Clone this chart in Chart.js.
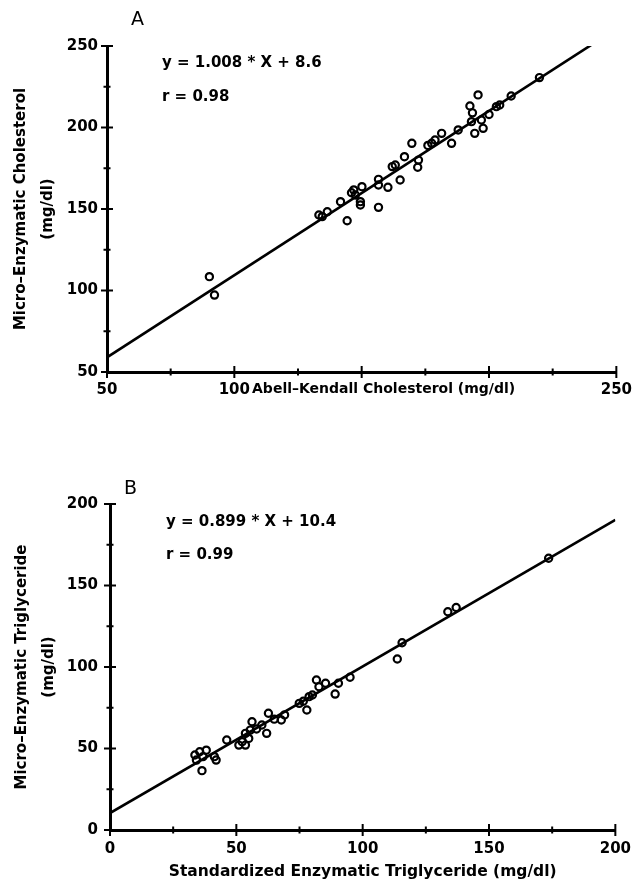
<!DOCTYPE html>
<html><head><meta charset="utf-8">
<script src="https://cdn.jsdelivr.net/npm/chart.js@4.4.0/dist/chart.umd.min.js"></script>
<style>
html,body{margin:0;padding:0;background:#fff;}
#wrap{position:relative;width:641px;height:881px;overflow:hidden;background:#fff;}
canvas{position:absolute;left:0;}
.t{position:absolute;font-family:"DejaVu Sans";font-weight:bold;color:#000;white-space:nowrap;line-height:1;}
</style></head>
<body><div id="wrap">
<canvas id="cA" width="641" height="440" style="top:0px"></canvas>
<canvas id="cB" width="641" height="441" style="top:440px"></canvas>
<div class="t" style="left:131px;top:9px;font-size:19px;font-weight:normal">A</div>
<div class="t" style="left:162px;top:55px;font-size:15px">y = 1.008 * X + 8.6</div>
<div class="t" style="left:162px;top:89px;font-size:15px">r = 0.98</div>
<div class="t" style="left:124px;top:478px;font-size:19px;font-weight:normal">B</div>
<div class="t" style="left:166px;top:514px;font-size:15px">y = 0.899 * X + 10.4</div>
<div class="t" style="left:166px;top:547px;font-size:15px">r = 0.99</div>
</div>
<script>
// Panel A: cholesterol
const cholAbellKendall = [219.8,208.7,204.2,202.9,195.7,192.5,193.5,193.1,197.0,197.7,194.4,187.9,185.3,181.4,177.5,178.8,169.7,166.8,172.3,172.0,163.2,165.1,156.6,156.6,160.3,150.1,146.9,147.5,149.5,149.5,156.6,141.7,144.3,136.5,133.2,134.5,90.2,92.2,176.0,162.0,146.0,200.0];
const cholMicro        = [230.6,219.3,213.8,212.8,220.0,213.2,209.0,203.6,204.6,199.5,196.4,198.5,190.3,196.4,190.3,192.3,190.3,182.1,180.0,175.6,177.0,167.8,168.2,164.7,163.3,163.7,161.7,158.6,154.5,152.5,151.0,154.5,142.8,148.3,146.3,145.3,108.5,97.2,189.0,176.0,160.0,208.0];
const cholFitX = [50, 240.5];
const cholFitY = [59, 251];
const cholTicks = [50,100,150,200,250];
const cholXLabelsShown = [50,100,250];

// Panel B: triglyceride
const trigStandard = [173.6,133.7,137.0,115.6,113.7,95.0,90.4,89.1,85.3,81.7,82.7,80.1,77.9,74.9,78.8,69.1,67.8,62.7,62.0,60.1,56.2,55.5,54.9,53.6,52.3,51.0,53.6,46.2,42.0,41.3,38.1,35.5,33.6,36.8,36.4,34.2,76.5,65.0,58.0];
const trigMicro    = [166.7,133.9,136.5,114.9,104.9,93.7,90.0,83.4,90.0,92.0,87.9,82.8,73.6,77.7,81.8,70.6,67.5,71.6,59.3,64.4,66.4,61.3,56.2,59.3,54.2,52.1,52.1,55.2,42.9,45.0,49.0,48.0,46.0,45.0,36.4,42.9,79.0,68.0,62.0];
const trigFitX = [0, 200];
const trigFitY = [10.4, 190.2];
const trigTicks = [0,50,100,150,200];

const FONT = "DejaVu Sans";
const NB = '\u00a0';

const crossTicks = {
  id: 'crossTicks',
  afterDraw(chart) {
    const ctx = chart.ctx;
    const xs = chart.scales.x, ys = chart.scales.y;
    ctx.save();
    ctx.strokeStyle = '#000';
    ctx.lineWidth = 2;
    const step = 25;
    for (let v = xs.min; v <= xs.max + 0.01; v += step) {
      const px = xs.getPixelForValue(v);
      const major = Math.round(v) % 50 === 0;
      const L = major ? 6 : 3.5;
      ctx.beginPath(); ctx.moveTo(px, xs.top - L); ctx.lineTo(px, xs.top + L); ctx.stroke();
    }
    for (let v = ys.min; v <= ys.max + 0.01; v += step) {
      const py = ys.getPixelForValue(v);
      const major = Math.round(v) % 50 === 0;
      const L = major ? 6 : 3.5;
      ctx.beginPath(); ctx.moveTo(ys.right - L, py); ctx.lineTo(ys.right + L, py); ctx.stroke();
    }
    ctx.restore();
  }
};

function build(id, xv, yv, fx, fy, lim, ticksVals, xShown, xTitle, yTitle, dims) {
  const pts = xv.map((x, i) => ({x: x, y: yv[i]}));
  const line = fx.map((x, i) => ({x: x, y: fy[i]}));
  return new Chart(document.getElementById(id), {
    type: 'scatter',
    data: {
      datasets: [
        {type: 'line', data: line, borderColor: '#000', borderWidth: 2.6, pointRadius: 0, fill: false, tension: 0, order: 2},
        {data: pts, pointStyle: 'circle', pointRadius: 3.6, pointBorderWidth: 2.2, pointBorderColor: '#000', pointBackgroundColor: 'rgba(255,255,255,0)', order: 1}
      ]
    },
    options: {
      responsive: false, animation: false,
      layout: {padding: {left: 0, right: dims.right, top: dims.top, bottom: dims.bottom}},
      plugins: {legend: {display: false}, tooltip: {enabled: false}},
      scales: {
        x: {
          type: 'linear', min: lim[0], max: lim[1],
          afterFit: s => { s.height = dims.xH; },
          afterBuildTicks: s => { s.ticks = ticksVals.map(v => ({value: v})); },
          grid: {display: true, drawOnChartArea: false, drawTicks: false},
          border: {display: true, color: '#000', width: 3},
          ticks: {color: '#000', padding: dims.xPad, maxRotation: 0, autoSkip: false,
                  font: {family: FONT, size: 15, weight: 'bold'},
                  callback: v => (xShown.indexOf(v) >= 0 ? String(v) : '')},
          title: {display: true, text: xTitle, color: '#000', padding: {top: 0, bottom: 0},
                  font: {family: FONT, size: dims.xTitleSize, weight: 'bold', lineHeight: 1.2}}
        },
        y: {
          type: 'linear', min: lim[0], max: lim[1],
          afterFit: s => { s.width = dims.yW; },
          afterBuildTicks: s => { s.ticks = ticksVals.map(v => ({value: v})); },
          grid: {display: true, drawOnChartArea: false, drawTicks: false},
          border: {display: true, color: '#000', width: 3},
          ticks: {color: '#000', padding: dims.yPad, font: {family: FONT, size: 15, weight: 'bold'}},
          title: {display: true, text: yTitle, color: '#000', padding: {top: dims.yTitlePad, bottom: 0},
                  font: {family: FONT, size: 15, weight: 'bold', lineHeight: dims.yTitleLH}}
        }
      }
    },
    plugins: [crossTicks]
  });
}

build('cA', cholAbellKendall, cholMicro, cholFitX, cholFitY, [50, 250], cholTicks, cholXLabelsShown,
  NB.repeat(9) + 'Abell\u2013Kendall Cholesterol (mg/dl)', ['Micro\u2013Enzymatic Cholesterol', '(mg/dl)'],
  {right: 22, top: 46, bottom: 42, xH: 26, yW: 107, xPad: 9, yPad: 9, yTitlePad: 8, yTitleLH: '27px', xTitleSize: 14});

build('cB', trigStandard, trigMicro, trigFitX, trigFitY, [0, 200], trigTicks, trigTicks,
  'Standardized Enzymatic Triglyceride (mg/dl)', ['Micro\u2013Enzymatic Triglyceride', '(mg/dl)'],
  {right: 15, top: 64, bottom: 0, xH: 51, yW: 110, xPad: 10, yPad: 12, yTitlePad: 8.5, yTitleLH: '27px', xTitleSize: 15.5});
</script>
</body></html>
